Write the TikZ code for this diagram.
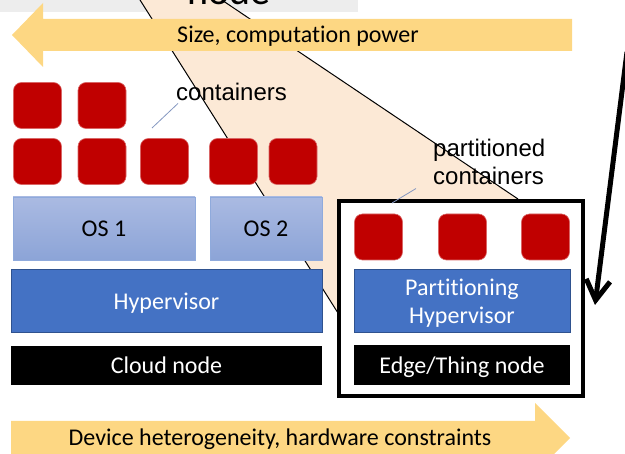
\documentclass[tikz,border=0pt]{standalone}
\usepackage{fontspec}
\setmainfont{Carlito}[Ligatures={NoCommon}, RawFeature={-liga}]
\newfontfamily\arialfont{Liberation Sans}
\usetikzlibrary{arrows.meta}
\definecolor{ctrred}{HTML}{C00000}
\definecolor{ostop}{HTML}{AABAE2}
\definecolor{osbottom}{HTML}{8CA4D7}
\definecolor{osrim}{HTML}{8FAADC}
\definecolor{hypblue}{HTML}{4472C4}
\definecolor{hyprim}{HTML}{2F528F}
\definecolor{wedgefill}{HTML}{FCE9D6}
\definecolor{bannerfill}{HTML}{FDD783}
\definecolor{bandgrey}{HTML}{EDEDED}
\definecolor{leadline}{HTML}{8497C0}

\tikzset{
  ctr/.style={draw=ctrred!60!white, fill=ctrred, line width=0.6pt, rounded corners=8pt,
    minimum width=48pt, minimum height=46pt, inner sep=0pt},
  slidetxt/.style={inner sep=0pt, font=\fontsize{24}{28}\selectfont},
  layer/.style={slidetxt, text depth=0pt},
  osbox/.style={layer, draw=osrim, top color=ostop, bottom color=osbottom, line width=0.8pt,
    minimum height=63pt},
  hypbox/.style={layer, draw=hyprim, fill=hypblue, text=white, line width=0.8pt,
    minimum height=63pt, align=center},
  hwbox/.style={layer, fill=black, text=white, minimum height=39pt},
  lbl/.style={inner sep=0pt, font=\arialfont\fontsize{24}{28}\selectfont},
  banner/.style={fill=bannerfill},
  leader/.style={draw=leadline, line width=0.8pt},
}

\begin{document}
\begin{tikzpicture}[x=1pt, y=-1pt, line join=miter]
  \useasboundingbox (0,0) rectangle (625,454);
  \clip (0,0) rectangle (625,454);

  % zoom wedge behind everything
  \fill[bandgrey] (0,-5) rectangle (358,12);
  \coordinate (wl0) at (133.7,-10);
  \coordinate (wl1) at (338,313);
  \coordinate (wr0) at (206.9,-10);
  \coordinate (wr1) at (518,199);
  \fill[wedgefill] (wl0) -- (wr0) -- (wr1) -- (560,230) -- (560,390) -- (390,390) -- (wl1) -- cycle;
  \draw[line width=1pt] (wl0) -- (wl1);
  \draw[line width=1pt] (wr0) -- (wr1);
  \node[inner sep=0pt, anchor=base, font=\fontsize{40}{48}\selectfont] (zoomtitle) at (229,5) {node};

  % banners
  \fill[banner] (12,35) -- (43,3) -- (43,19) -- (572,19) -- (572,51) -- (43,51) -- (43,67) -- cycle;
  \node[slidetxt, anchor=base] (sizetxt) at (298,43) {Size, computation power};
  \fill[banner] (11,421) -- (535,421) -- (535,403) -- (570,438) -- (535,473) -- (535,455) -- (11,455) -- cycle;
  \node[slidetxt, anchor=base] (devtxt) at (280,446) {Device heterogeneity, hardware constraints};

  % cloud node stack
  \node[hwbox, minimum width=311pt] (cloud) at (166.5,365.5) {Cloud node};
  \node[hypbox, minimum width=311pt] (hyp) at (166.5,301) {Hypervisor};
  \node[osbox, minimum width=182pt] (os1) at (104,228.5) {OS 1};
  \node[osbox, minimum width=112pt] (os2) at (266,228.5) {OS 2};
  \foreach \x [count=\i] in {37.5,102}
    \node[ctr] (ca\i) at (\x,105.5) {};
  \foreach \x [count=\i] in {37.5,102,164.5,233.5,293}
    \node[ctr] (cb\i) at (\x,161.5) {};

  % edge node stack
  \node[draw, line width=4pt, fill=white, inner sep=0pt, minimum width=244pt, minimum height=195pt] (edge) at (461,298.5) {};
  \node[hwbox, minimum width=216pt, minimum height=40pt] (thing) at (462,365) {Edge/Thing node};
  \node[hypbox, minimum width=216pt] (phyp) at (462,301) {Partitioning\\Hypervisor};
  \foreach \x [count=\i] in {378.5,462.5,545.5}
    \node[ctr] (pc\i) at (\x,237) {};

  % labels
  \node[lbl, anchor=base west] (ctrlbl) at (176,101) {containers};
  \coordinate (ctrlead) at (152,128);
  \draw[leader] (ctrlead) -- ([xshift=2pt,yshift=-2pt]ctrlbl.south west);
  \node[lbl, anchor=north west, align=left] (pctrlbl) at (433,138.5) {partitioned\\containers};
  \coordinate (pctrlead) at (392,203);
  \draw[leader] (pctrlead) -- ([xshift=-17pt,yshift=-4pt]pctrlbl.south west);

  % zoom arrow
  \coordinate (bigtail) at (627,52);
  \coordinate (bighead) at (595,305);
  \draw[line width=5pt, -{Straight Barb[length=20pt, width=24pt]}] (bigtail) -- (bighead);
\end{tikzpicture}
\end{document}
